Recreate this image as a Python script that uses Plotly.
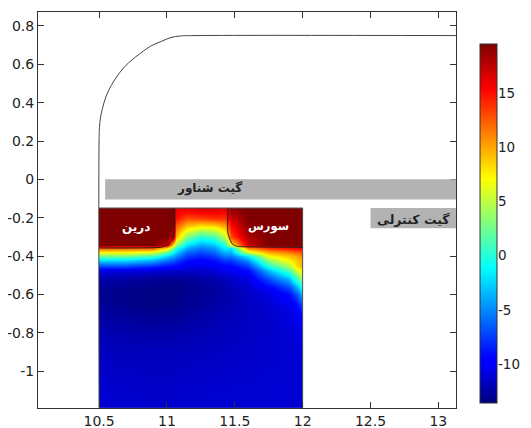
import plotly.graph_objects as go

x_nodes = [10.5, 10.7, 10.9, 11.0, 11.05, 11.07, 11.15, 11.25, 11.35, 11.43, 11.47, 11.6, 11.75, 11.9, 11.96, 12.0]
y_nodes = [-0.15, -0.2, -0.25, -0.3, -0.34, -0.36, -0.38, -0.40, -0.42, -0.45, -0.48, -0.52, -0.56, -0.6, -0.65, -0.7, -0.8, -0.9, -1.0, -1.1, -1.19]
potential = [
 [19.5, 19.5, 19.5, 19.5, 19.5, 16.0, 16.0, 16.5, 16.5, 16.0, 19.0, 19.5, 19.5, 19.5, 19.5, 19.5],
 [19.5, 19.5, 19.5, 19.5, 19.5, 15.0, 13.0, 13.5, 14.0, 14.0, 17.0, 19.5, 19.5, 19.5, 19.5, 19.5],
 [19.5, 19.5, 19.5, 19.5, 19.5, 12.0,  8.5,  7.0,  7.5,  9.5, 15.0, 19.0, 19.5, 19.5, 19.5, 19.5],
 [19.5, 19.5, 19.5, 19.5, 17.0,  9.5,  3.0,  0.0,  1.0,  5.0, 13.0, 18.0, 19.5, 19.5, 19.5, 19.5],
 [19.5, 19.5, 19.5, 17.0,  7.0,  3.5, -2.0, -4.0, -3.0,  0.0,  7.0, 17.0, 19.5, 19.5, 19.5, 19.5],
 [12.5, 12.5, 12.5,  8.0,  2.0,  0.0, -4.0, -5.5, -4.5, -1.5, -2.0, 11.0, 14.0, 15.0, 15.5, 16.0],
 [ 7.5,  7.5,  6.5,  2.5, -1.5, -2.5, -6.0, -7.0, -6.0, -3.5, -3.5,  6.0, 10.0, 11.5, 12.5, 13.0],
 [ 2.5,  2.5,  1.0, -2.5, -4.0, -5.0, -7.5, -8.5, -7.5, -5.5, -5.5, -1.5,  7.0,  9.0, 10.0, 11.0],
 [-2.0, -2.0, -3.5, -5.5, -6.5, -7.0, -9.0, -9.5, -9.0, -7.5, -7.5, -4.5,  4.0,  7.5,  9.0, 10.0],
 [-7.0, -7.0, -8.0, -9.0, -9.5, -9.5, -10.5, -10.5, -10.2, -9.5, -9.5, -7.5, 0.0,  4.5,  8.3,  9.5],
 [-11.0, -11.0, -11.3, -11.5, -11.5, -11.5, -11.5, -11.5, -11.2, -10.5, -10.5, -9.5, -3.5,  1.0,  5.5,  7.5],
 [-12.3, -12.5, -12.8, -13.0, -13.0, -13.0, -12.8, -12.6, -12.2, -11.8, -11.5, -10.8, -7.0, -3.5,  1.0,  3.5],
 [-12.8, -13.1, -13.3, -13.4, -13.4, -13.3, -13.1, -12.9, -12.6, -12.2, -12.0, -11.3, -9.5, -7.0, -3.5,  0.0],
 [-13.0, -13.3, -13.5, -13.5, -13.5, -13.4, -13.2, -13.0, -12.7, -12.4, -12.2, -11.6, -10.8, -9.0, -6.5, -3.5],
 [-12.9, -13.2, -13.4, -13.4, -13.4, -13.2, -13.0, -12.8, -12.5, -12.3, -12.1, -11.7, -11.2, -10.3, -9.0, -7.0],
 [-12.6, -12.9, -13.1, -13.0, -13.0, -12.9, -12.7, -12.5, -12.3, -12.1, -12.0, -11.7, -11.4, -10.9, -10.2, -9.0],
 [-12.1, -12.3, -12.4, -12.4, -12.4, -12.3, -12.2, -12.1, -11.9, -11.8, -11.8, -11.6, -11.4, -11.2, -10.9, -10.5],
 [-11.7, -11.9, -11.9, -11.9, -11.9, -11.9, -11.8, -11.7, -11.7, -11.6, -11.6, -11.5, -11.4, -11.3, -11.1, -11.0],
 [-11.5, -11.6, -11.7, -11.7, -11.7, -11.6, -11.6, -11.5, -11.5, -11.5, -11.4, -11.4, -11.3, -11.3, -11.2, -11.2],
 [-11.3, -11.4, -11.5, -11.5, -11.5, -11.4, -11.4, -11.4, -11.3, -11.3, -11.3, -11.3, -11.2, -11.2, -11.2, -11.2],
 [-11.2, -11.3, -11.4, -11.4, -11.4, -11.4, -11.3, -11.3, -11.3, -11.2, -11.2, -11.2, -11.2, -11.2, -11.2, -11.2],
]
oxide_x = [13.13, 11.2, 11.1, 11.03, 10.96, 10.88, 10.8, 10.72, 10.65, 10.59, 10.55, 10.525, 10.51, 10.503, 10.5, 10.5]
oxide_y = [0.75, 0.75, 0.748, 0.74, 0.72, 0.695, 0.655, 0.61, 0.555, 0.49, 0.43, 0.37, 0.32, 0.27, 0.2, -1.19]
frame_x = [10.5, 12.0, 12.0]
frame_y = [-0.15, -0.15, -1.19]
drain_x = [11.05, 11.05, 11.035, 11.0, 10.95, 10.5]
drain_y = [-0.15, -0.28, -0.325, -0.345, -0.355, -0.358]
source_x = [11.45, 11.45, 11.48, 11.515, 11.59, 12.0]
source_y = [-0.15, -0.283, -0.336, -0.35, -0.352, -0.355]
floating_gate_x = [10.545, 13.13]
floating_gate_y = [-0.105, 0.0]
control_gate_x = [12.5, 13.13]
control_gate_y = [-0.255, -0.15]
x_ticks = [10.5, 11, 11.5, 12, 12.5, 13]
x_labels = ["10.5", "11", "11.5", "12", "12.5", "13"]
y_ticks = [0.8, 0.6, 0.4, 0.2, 0, -0.2, -0.4, -0.6, -0.8, -1]
y_labels = ["0.8", "0.6", "0.4", "0.2", "0", "-0.2", "-0.4", "-0.6", "-0.8", "-1"]
cb_ticks = [15, 10, 5, 0, -5, -10]
cb_labels = ["15", "10", "5", "0", "-5", "-10"]
labels = [
    ("گیت شناور", 11.31, -0.047, "#222222", 12),
    ("گیت کنترلی", 12.82, -0.212, "#222222", 12.5),
    ("درین", 10.77, -0.249, "#ffffff", 12),
    ("سورس", 11.75, -0.245, "#ffffff", 11.5),
]

# Small edge nodes keep the smoothed image from spilling past the device outline.
eps = 0.002
xs = [x_nodes[0], x_nodes[0] + eps] + x_nodes[1:-1] + [x_nodes[-1] - eps, x_nodes[-1]]
ys_desc = [y_nodes[0], y_nodes[0] - eps] + y_nodes[1:-1] + [y_nodes[-1] + eps, y_nodes[-1]]
rows = [[r[0]] + r + [r[-1]] for r in potential]
rows = [rows[0]] + rows + [rows[-1]]

FONT = "DejaVu Sans"
AX = "#333333"
ZMIN, ZMAX = -13.6, 19.5
JET = [[0, "#00007f"], [0.11, "#0000ff"], [0.125, "#0000ff"], [0.375, "#00ffff"],
       [0.625, "#ffff00"], [0.875, "#ff0000"], [1, "#7f0000"]]
CB_X0 = (480 - 38) / 418
CB_THICK = 17 / 418
CB_Y0 = (408 - 403) / 396
CB_LEN = (403 - 44) / 396
CB_LABEL_X = (496 - 38) / 418

fig = go.Figure()
fig.add_trace(go.Heatmap(
    x=xs, y=ys_desc[::-1], z=rows[::-1], zmin=ZMIN, zmax=ZMAX, zsmooth="best",
    colorscale=JET, hoverinfo="skip",
    colorbar=dict(x=CB_X0, xanchor="left", xpad=0, y=CB_Y0, yanchor="bottom", ypad=0,
                  len=CB_LEN, lenmode="fraction", thickness=17, thicknessmode="pixels",
                  tickmode="array", tickvals=cb_ticks, ticks="", showticklabels=False,
                  outlinecolor=AX, outlinewidth=1),
))
line_style = dict(color="#555555", width=1)
fig.add_trace(go.Scatter(x=oxide_x, y=oxide_y, mode="lines", line=dict(color="#444444", width=1, shape="spline", smoothing=1.0), showlegend=False, hoverinfo="skip"))
fig.add_trace(go.Scatter(x=frame_x, y=frame_y, mode="lines", line=line_style, showlegend=False, hoverinfo="skip"))
fig.add_trace(go.Scatter(x=drain_x, y=drain_y, mode="lines", line=dict(color="#222222", width=1, shape="spline", smoothing=0.5), showlegend=False, hoverinfo="skip"))
fig.add_trace(go.Scatter(x=source_x, y=source_y, mode="lines", line=dict(color="#222222", width=1, shape="spline", smoothing=0.5), showlegend=False, hoverinfo="skip"))

for gx, gy in ((floating_gate_x, floating_gate_y), (control_gate_x, control_gate_y)):
    fig.add_shape(type="rect", x0=gx[0], x1=gx[1], y0=gy[0], y1=gy[1], fillcolor="#b3b3b3", line=dict(width=0), layer="above")
# Colorbar ticks point inward from both sides in the reference; its labels sit right of the bar.
for v, lab in zip(cb_ticks, cb_labels):
    yp = CB_Y0 + (v - ZMIN) / (ZMAX - ZMIN) * CB_LEN
    for a, b in ((CB_X0, CB_X0 + 4 / 418), (CB_X0 + CB_THICK - 4 / 418, CB_X0 + CB_THICK)):
        fig.add_shape(type="line", xref="paper", yref="paper", x0=a, x1=b, y0=yp, y1=yp,
                      line=dict(color="#222222", width=1), layer="above")
    fig.add_annotation(xref="paper", yref="paper", x=CB_LABEL_X, y=yp, xanchor="left", yanchor="middle",
                       text=lab, showarrow=False, font=dict(family=FONT, size=13.5, color="#222222"))
for text, tx, ty, col, size in labels:
    fig.add_annotation(x=tx, y=ty, text=f"<b>{text}</b>", showarrow=False,
                       font=dict(family=FONT, size=size, color=col))

axis = dict(showgrid=False, zeroline=False, showline=True, linecolor=AX, linewidth=1, mirror="ticks",
            ticks="inside", ticklen=6, tickcolor=AX, tickmode="array", automargin=False,
            tickfont=dict(family=FONT, size=14, color="#222222"))
fig.update_xaxes(range=[10.05, 13.13], tickvals=x_ticks, ticktext=x_labels, **axis)
fig.update_yaxes(range=[-1.193, 0.873], tickvals=y_ticks, ticktext=y_labels, **axis)
fig.update_layout(width=523, height=420, autosize=False, margin=dict(l=30, r=75, t=4, b=20),
                  paper_bgcolor="white", plot_bgcolor="white", showlegend=False)
fig.write_html("out.html")
